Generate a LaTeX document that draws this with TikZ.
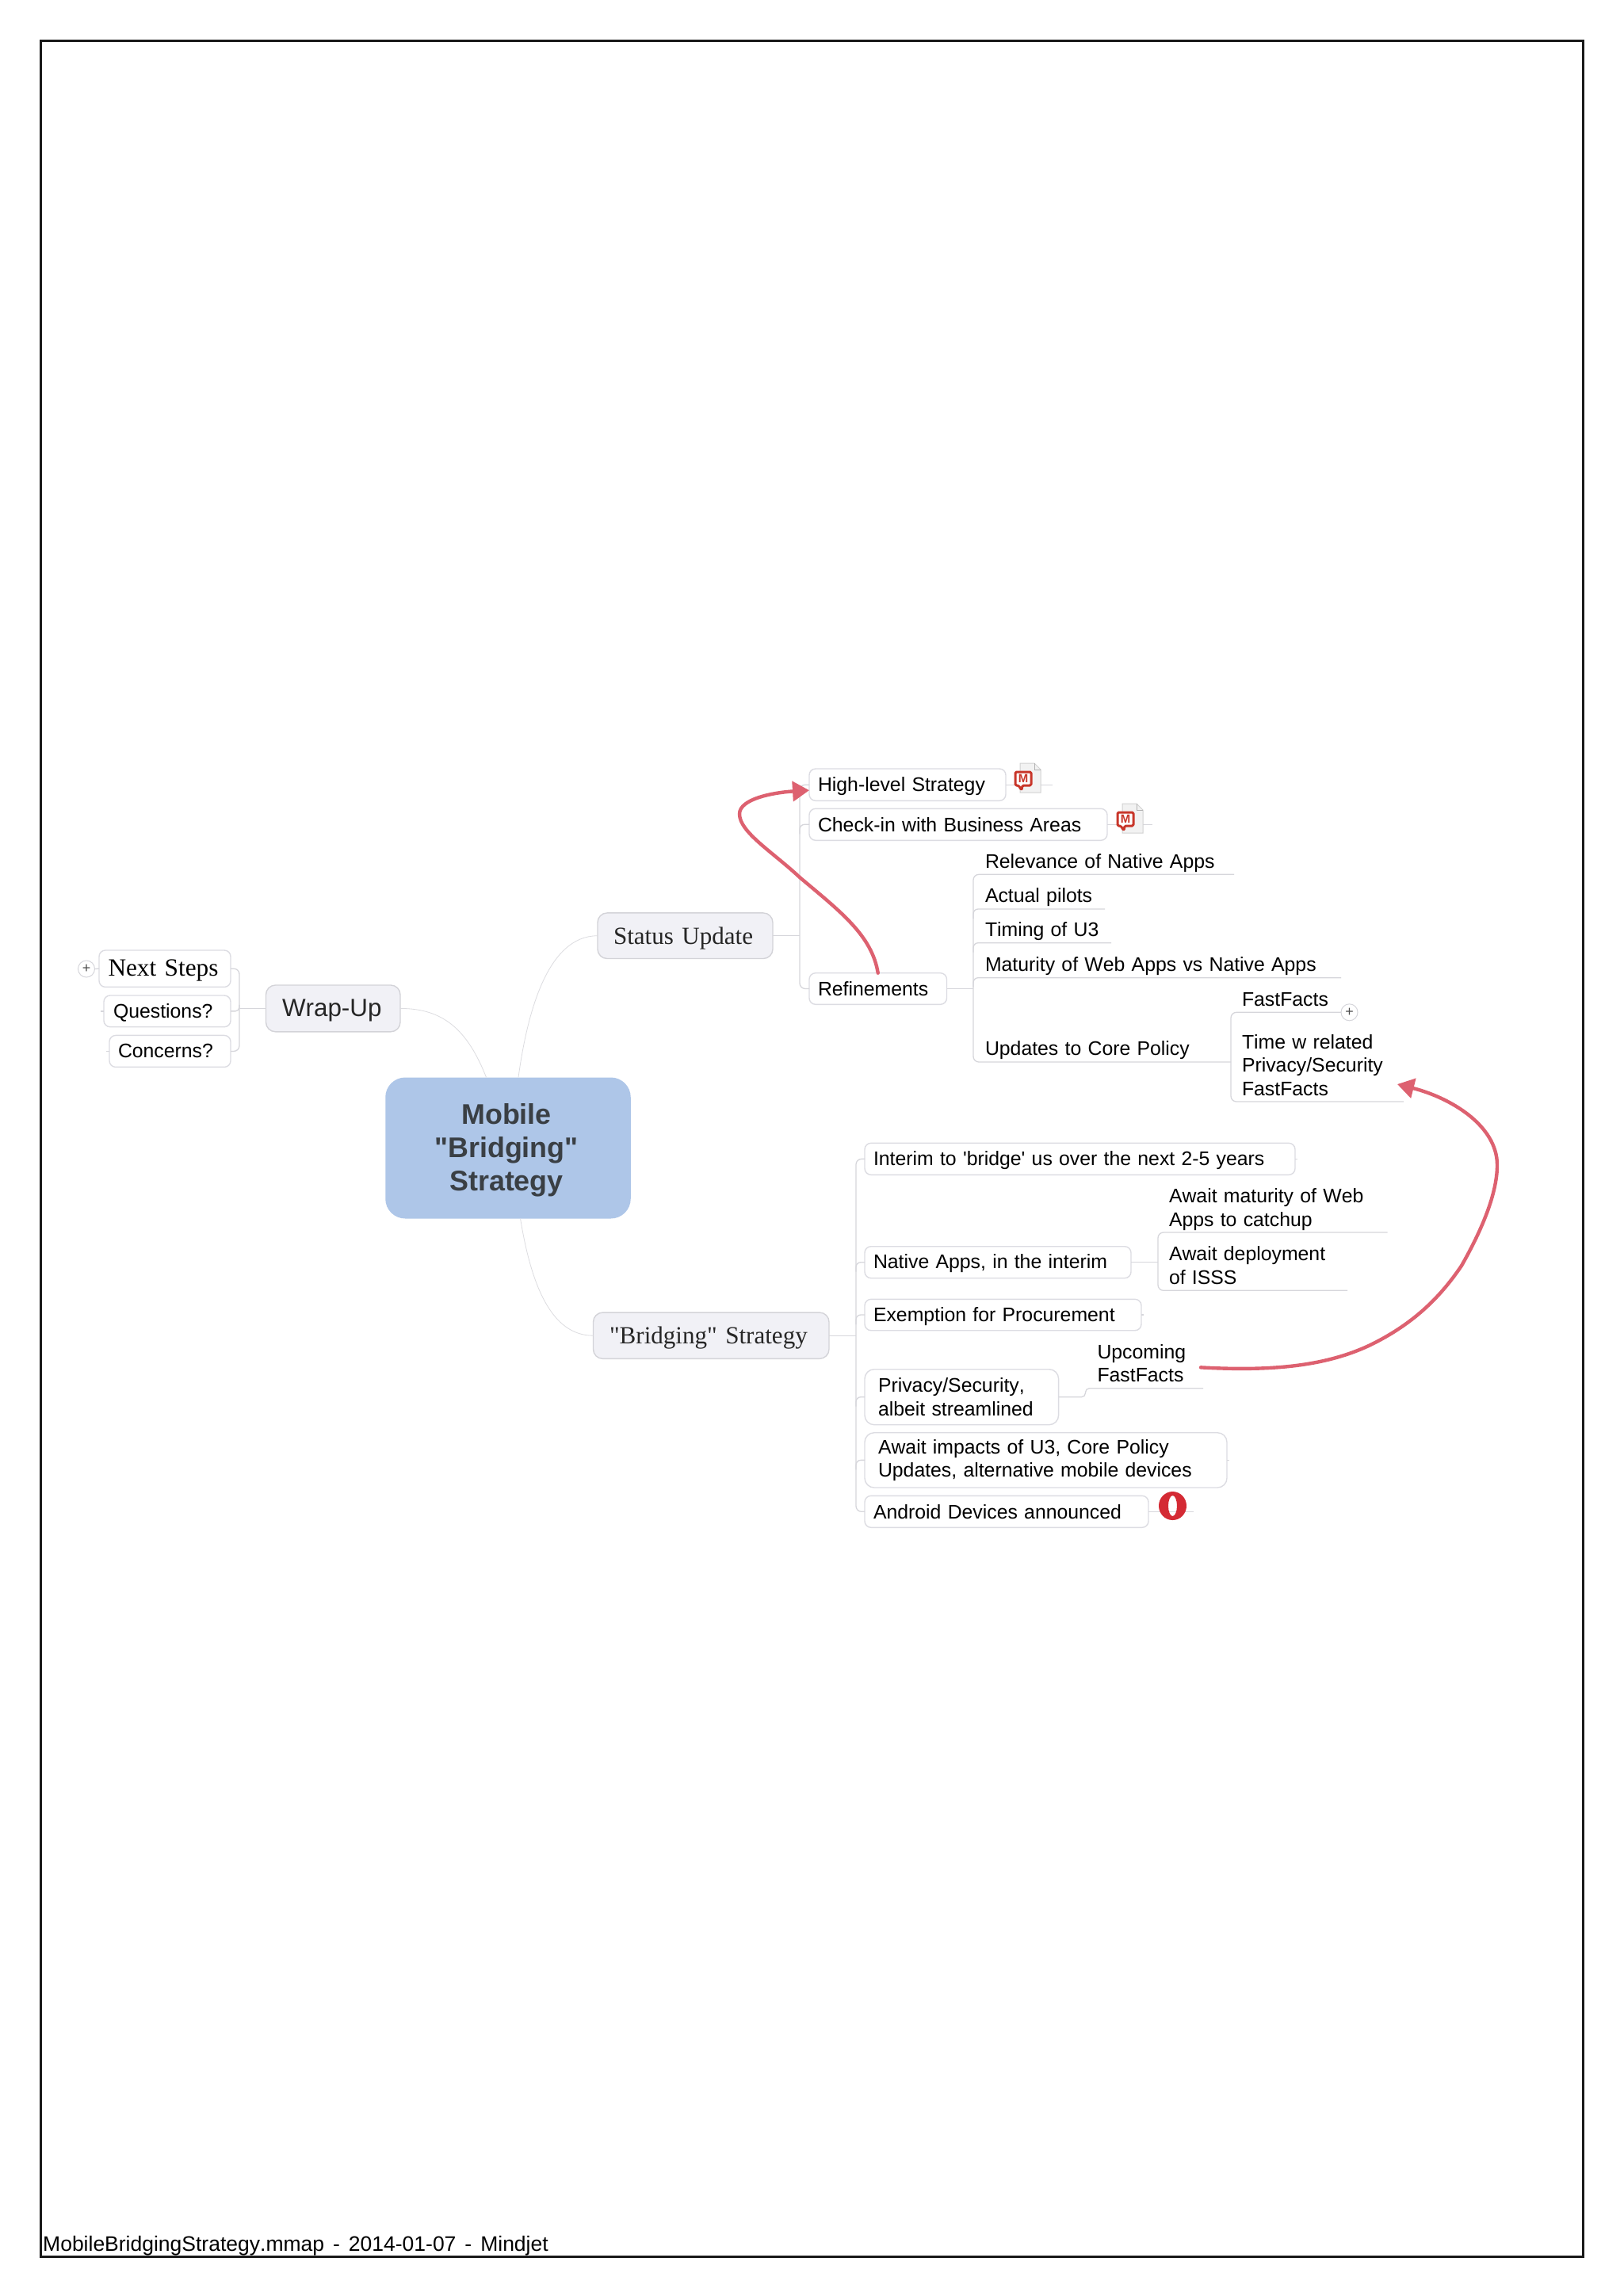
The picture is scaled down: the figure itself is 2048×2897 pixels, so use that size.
\documentclass[tikz,border=0pt]{standalone}
\usepackage{fontspec}
\newfontfamily\sansx[Kerning=Off]{Liberation Sans}
\newfontfamily\sansk{Liberation Sans}
\newfontfamily\serifx{Liberation Serif}
\usetikzlibrary{arrows.meta}
\definecolor{lnkc}{HTML}{D6D6DB}
\definecolor{lnkt}{HTML}{DCDCE0}
\definecolor{boxc}{HTML}{DCDCE2}
\definecolor{topf}{HTML}{F1F1F6}
\definecolor{redc}{HTML}{DD6170}
\definecolor{cenf}{HTML}{AEC6E8}
\definecolor{cent}{HTML}{3A3F44}
\definecolor{opc}{HTML}{D42A34}
\definecolor{iconr}{HTML}{C8362A}
\tikzset{
  x=1bp,y=-1bp,
  lnk/.style={draw=lnkc,line width=1.3bp},
  thin lnk/.style={draw=lnkt,line width=0.8bp},
  dn/.style={execute at begin node={\vspace*{-#1bp}}},
  txt/.style={font=\sansx\fontsize{24.9}{29.6}\selectfont,text=black},
  sub/.style={txt,draw=boxc,line width=1.4bp,fill=white,rounded corners=8bp},
  plain/.style={txt},
  topic/.style={draw=boxc!90!gray,line width=1.4bp,fill=topf,rounded corners=12bp,text=black!85},
  plusc/.style={circle,draw=lnkc,line width=1bp,fill=white,minimum size=21bp,inner sep=0pt,font=\sansk\fontsize{18}{18}\selectfont,text=black!70},
  rel/.style={draw=redc,line width=4.4bp,-{Triangle[length=21bp,width=25bp]},line cap=round},
}
\newcommand{\mmnode}[7][left]{%
  \node[#7,anchor=center,inner xsep=#6bp,inner ysep=0pt,outer sep=0pt,align=#1,
    text width={(#4-#2-2*#6)*1bp},minimum height={(#5-#3)*1bp},minimum width={(#4-#2)*1bp}]
}
\begin{document}
\begin{tikzpicture}
\useasboundingbox (0,0) rectangle (2048,2897);
\fill[white] (0,0) rectangle (2048,2897);
\draw[line width=3bp,draw=black!90] (51,51) rectangle (1997.5,2847);

% central
\node[fill=cenf,rounded corners=25bp,minimum width=309.5bp,minimum height=178bp,inner sep=0pt] (central) at (641,1448.5) {};
\node[inner sep=0pt,align=center,font=\sansk\fontsize{36}{42}\bfseries\selectfont,text=cent] (centraltext) at (639,1451.5) {Mobile\\"Bridging"\\Strategy};

% main topics
\mmnode{754}{1152}{975}{1209.6}{20}{topic,dn=6,font=\serifx\fontsize{31.2}{36}\selectfont} (status) at (864.5,1180.7) {Status Update};
\mmnode{335.5}{1243}{505}{1301.8}{20.5}{topic,dn=6,font=\sansx\fontsize{31.5}{36}\selectfont} (wrap) at (420.25,1272.4) {Wrap-Up};
\mmnode{748.5}{1656}{1046}{1714.3}{20.5}{topic,dn=6,font=\serifx\fontsize{31.2}{36}\selectfont} (bridge) at (897.25,1685.2) {"Bridging" Strategy};

% boxes: status update
\mmnode{1021}{970}{1269}{1010.3}{11}{sub,dn=4} (high) at (1145,990.15) {High-level Strategy};
\mmnode{1021}{1020.3}{1397}{1060.3}{11}{sub} (check) at (1209,1040.3) {Check-in with Business Areas};
\mmnode{1021}{1227.7}{1194.5}{1267.3}{11}{sub} (refine) at (1107.75,1247.5) {Refinements};

% underlined topics
\mmnode{1228}{1070}{1557}{1103.3}{15}{plain,dn=4} (relv) at (1392.5,1086.65) {Relevance of Native Apps};
\mmnode{1228}{1113}{1394}{1147}{15}{plain,dn=4} (pilot) at (1311,1130) {Actual pilots};
\mmnode{1228}{1157}{1402}{1189.7}{15}{plain,dn=4} (timing) at (1315,1173.35) {Timing of U3};
\mmnode{1228}{1200}{1692}{1233.7}{15}{plain,dn=4} (matur) at (1460,1216.85) {Maturity of Web Apps vs Native Apps};
\mmnode{1228}{1305}{1553}{1340}{15}{plain,dn=6} (upd) at (1390.5,1322.5) {Updates to Core Policy};
\mmnode{1553}{1244}{1692}{1277.3}{14}{plain} (fast) at (1622.5,1260.65) {FastFacts};
\mmnode{1553}{1298}{1771}{1390}{14}{plain} (time) at (1662,1344) {Time w related\\Privacy/Security\\FastFacts};

% boxes: wrap up
\mmnode{125}{1199}{291}{1245.4}{11.5}{sub,dn=4,font=\serifx\fontsize{31.4}{36}\selectfont} (next) at (208,1222.2) {Next Steps};
\mmnode{131}{1256}{291}{1295.7}{12}{sub,dn=4} (ques) at (211,1275.85) {Questions?};
\mmnode{138}{1306.4}{291}{1346.4}{11}{sub} (conc) at (214.5,1326.4) {Concerns?};
\node[plusc] (plus1) at (109,1222.5) {+};
\node[plusc] (plus2) at (1702.5,1277.3) {+};

% boxes: bridging strategy
\mmnode{1091}{1442.3}{1634}{1482.3}{11}{sub,dn=4} (interim) at (1362.5,1462.3) {Interim to 'bridge' us over the next 2-5 years};
\mmnode{1091}{1572.7}{1427}{1612.7}{11}{sub,dn=2} (native) at (1259,1592.7) {Native Apps, in the interim};
\mmnode{1091}{1639.3}{1440}{1678.7}{11}{sub,dn=4} (exempt) at (1265.5,1659) {Exemption for Procurement};
\mmnode{1091}{1727.7}{1335.6}{1797.7}{17}{sub,rounded corners=12bp} (priv) at (1213.3,1762.7) {Privacy/Security,\\albeit streamlined};
\mmnode{1091}{1807.7}{1548}{1877}{17}{sub,rounded corners=12bp} (impact) at (1319.5,1842.35) {Await impacts of U3, Core Policy\\Updates, alternative mobile devices};
\mmnode{1091}{1887.3}{1449}{1927.3}{11}{sub} (android) at (1270,1907.3) {Android Devices announced};
\mmnode{1461}{1495}{1750.6}{1557.6}{14}{plain} (web) at (1605.8,1526.3) {Await maturity of Web\\Apps to catchup};
\mmnode{1461}{1565}{1700}{1628.3}{14}{plain} (isss) at (1580.5,1596.65) {Await deployment\\of ISSS};
\mmnode{1369.5}{1689}{1518}{1751.7}{15}{plain} (upcom) at (1443.75,1720.35) {Upcoming\\FastFacts};

% curves from the centre
\draw[thin lnk] ([xshift=-27.5bp]central.north) .. controls (590,1300) and (560,1272.4) .. (wrap.east);
\draw[thin lnk] ([xshift=13bp]central.north) .. controls (665,1280) and (690,1180.7) .. (status.west);
\draw[thin lnk] ([xshift=15.6bp]central.south) .. controls (670,1620) and (695,1685.2) .. (bridge.west);

% status update branches
\draw[lnk] (status.east) -- ++(34,0);
\draw[lnk,rounded corners=7bp] (high.west) -- ++(-12,0) |- (refine.west);
\draw[lnk,rounded corners=6bp] (check.west) -- ++(-12,0) -- ++(0,12);
\draw[lnk] (refine.east) -- ++(33.5,0);
\draw[lnk,rounded corners=7bp] (relv.south east) -- (relv.south west) -- (upd.south west) -- (upd.south east);
\draw[lnk,rounded corners=6bp] (pilot.south east) -- (pilot.south west) -- ++(0,12);
\draw[lnk,rounded corners=6bp] (timing.south east) -- (timing.south west) -- ++(0,12);
\draw[lnk,rounded corners=6bp] (matur.south east) -- (matur.south west) -- ++(0,12);
\draw[lnk,rounded corners=7bp] (fast.south east) -- (fast.south west) -- (time.south west) -- (time.south east);

% wrap-up branches
\draw[lnk] (wrap.west) -- ++(-33.5,0);
\draw[lnk,rounded corners=7bp] (next.east) -- ++(11,0) |- (conc.east);
\draw[lnk,rounded corners=5bp] (ques.east) -- ++(11,0) -- ++(0,-8);
\draw[lnk] (next.west) -- (plus1.east);
\draw[lnk] (ques.west) -- ++(-4,0);
\draw[lnk] (conc.west) -- ++(-4,0);

% bridging branches
\draw[lnk] (bridge.east) -- ++(34,0);
\draw[lnk,rounded corners=7bp] (interim.west) -- ++(-11,0) |- (android.west);
\foreach \n in {native,exempt,priv,impact}
  \draw[lnk,rounded corners=6bp] (\n.west) -- ++(-11,0) -- ++(0,12);
\draw[lnk] (native.east) -- ++(34,0);
\draw[lnk,rounded corners=7bp] ([yshift=2.6bp]web.south east) -- ([yshift=2.6bp]web.south west) -- (isss.south west) -- (isss.south east);
\draw[lnk,rounded corners=5bp] (priv.east) -| (upcom.south west) -- (upcom.south east);
\foreach \n in {interim,exempt,impact}
  \draw[lnk] (\n.east) -- ++(3,0);

% document icons
\draw[lnk] (high.east) -- ++(59,0);
\draw[lnk] (check.east) -- ++(57,0);
\foreach \nm/\cx/\cy in {m1/1287/963,m2/1416/1014}{
  \fill[white] (\cx-7,\cy) rectangle (\cx+26,\cy+37);
  \draw[draw=black!18,fill=black!5,line width=1bp] (\cx,\cy) -- (\cx+18,\cy) -- (\cx+26,\cy+8) -- (\cx+26,\cy+37) -- (\cx,\cy+37) -- cycle;
  \draw[draw=black!30,line width=1bp] (\cx+18,\cy) -- (\cx+18,\cy+8) -- (\cx+26,\cy+8);
  \draw[draw=iconr,fill=white,line width=3bp,rounded corners=1.5bp,line join=round]
    (\cx-6,\cy+11) -- (\cx+14,\cy+11) -- (\cx+14,\cy+28) -- (\cx+3,\cy+28) -- (\cx+2,\cy+34) -- (\cx-2,\cy+28) -- (\cx-6,\cy+28) -- cycle;
  \node[inner sep=0pt,font=\sansk\fontsize{15}{15}\bfseries\selectfont,text=iconr] (\nm) at (\cx+4,\cy+19.5) {M};
}

% opera icon
\draw[lnk] (android.east) -- ++(57,0);
\fill[even odd rule,fill=opc] (1479.5,1900) circle[x radius=17.5,y radius=18]
  (1479.5,1900) circle[x radius=5.5,y radius=13];

% relationships
\draw[rel] (refine.north) .. controls (1100,1180) and (1060,1150) .. (1009,1107)
  .. controls (975,1075) and (933,1050) .. (933,1027)
  .. controls (933,1008) and (975,1000) .. ([yshift=-7bp]high.west);
\draw[rel] ([xshift=-3bp,yshift=-5bp]upcom.east) .. controls (1600,1730) and (1670,1725) .. (1729,1697)
  .. controls (1780,1672) and (1815,1640) .. (1844,1597)
  .. controls (1865,1560) and (1889,1510) .. (1889,1470)
  .. controls (1889,1420) and (1830,1385) .. ([xshift=-8bp,yshift=22bp]time.south east);

% footer
\node[anchor=base west,inner sep=0pt,font=\sansx\fontsize{26.6}{30}\selectfont] (footer) at (54,2840) {MobileBridgingStrategy.mmap\hspace{11bp}-\hspace{11bp}2014-01-07\hspace{11bp}-\hspace{11bp}Mindjet};
\end{tikzpicture}
\end{document}
